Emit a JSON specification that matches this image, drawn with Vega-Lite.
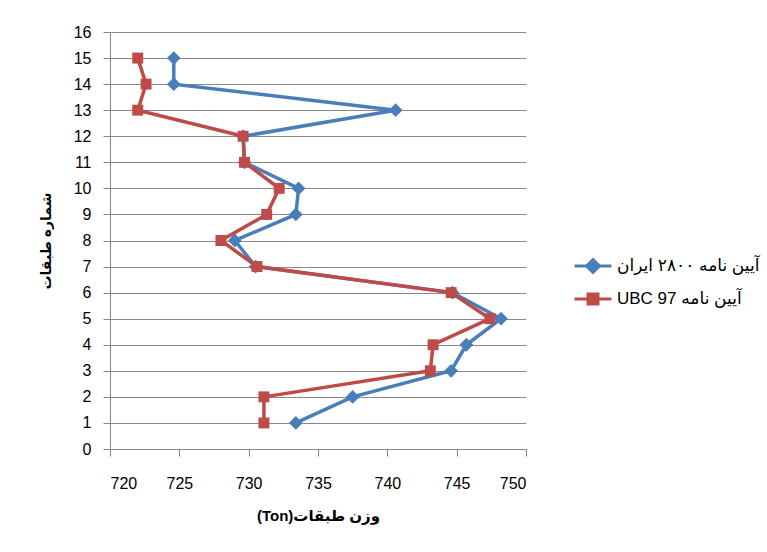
{
  "$schema": "https://vega.github.io/schema/vega-lite/v6.json",
  "width": 416,
  "height": 417,
  "autosize": {"type": "none"},
  "padding": {"left": 110, "top": 32, "right": 241, "bottom": 103},
  "background": "white",
  "config": {
    "view": {"stroke": null},
    "font": "Liberation Sans, DejaVu Sans",
    "axis": {
      "domainColor": "#888888",
      "tickColor": "#888888",
      "gridColor": "#888888",
      "labelColor": "#000000",
      "titleColor": "#000000",
      "labelFontSize": 16,
      "titleFontSize": 14,
      "titleFontWeight": "bold",
      "tickSize": 7
    }
  },
  "data": {
    "values": [
      {"floor": 1, "series": "آیین نامه ۲۸۰۰ ایران", "weight": 733.4},
      {"floor": 2, "series": "آیین نامه ۲۸۰۰ ایران", "weight": 737.5},
      {"floor": 3, "series": "آیین نامه ۲۸۰۰ ایران", "weight": 744.6},
      {"floor": 4, "series": "آیین نامه ۲۸۰۰ ایران", "weight": 745.7},
      {"floor": 5, "series": "آیین نامه ۲۸۰۰ ایران", "weight": 748.2},
      {"floor": 6, "series": "آیین نامه ۲۸۰۰ ایران", "weight": 744.7},
      {"floor": 7, "series": "آیین نامه ۲۸۰۰ ایران", "weight": 730.5},
      {"floor": 8, "series": "آیین نامه ۲۸۰۰ ایران", "weight": 729.0},
      {"floor": 9, "series": "آیین نامه ۲۸۰۰ ایران", "weight": 733.4},
      {"floor": 10, "series": "آیین نامه ۲۸۰۰ ایران", "weight": 733.6},
      {"floor": 11, "series": "آیین نامه ۲۸۰۰ ایران", "weight": 729.7},
      {"floor": 12, "series": "آیین نامه ۲۸۰۰ ایران", "weight": 729.6},
      {"floor": 13, "series": "آیین نامه ۲۸۰۰ ایران", "weight": 740.6},
      {"floor": 14, "series": "آیین نامه ۲۸۰۰ ایران", "weight": 724.6},
      {"floor": 15, "series": "آیین نامه ۲۸۰۰ ایران", "weight": 724.6},
      {"floor": 1, "series": "آیین نامه UBC 97", "weight": 731.1},
      {"floor": 2, "series": "آیین نامه UBC 97", "weight": 731.1},
      {"floor": 3, "series": "آیین نامه UBC 97", "weight": 743.1},
      {"floor": 4, "series": "آیین نامه UBC 97", "weight": 743.3},
      {"floor": 5, "series": "آیین نامه UBC 97", "weight": 747.4},
      {"floor": 6, "series": "آیین نامه UBC 97", "weight": 744.6},
      {"floor": 7, "series": "آیین نامه UBC 97", "weight": 730.6},
      {"floor": 8, "series": "آیین نامه UBC 97", "weight": 728.0},
      {"floor": 9, "series": "آیین نامه UBC 97", "weight": 731.3},
      {"floor": 10, "series": "آیین نامه UBC 97", "weight": 732.2},
      {"floor": 11, "series": "آیین نامه UBC 97", "weight": 729.7},
      {"floor": 12, "series": "آیین نامه UBC 97", "weight": 729.6},
      {"floor": 13, "series": "آیین نامه UBC 97", "weight": 722.0},
      {"floor": 14, "series": "آیین نامه UBC 97", "weight": 722.6},
      {"floor": 15, "series": "آیین نامه UBC 97", "weight": 722.0}
    ]
  },
  "encoding": {
    "x": {
      "field": "weight",
      "type": "quantitative",
      "scale": {"domain": [720, 750], "nice": false, "zero": false},
      "axis": {
        "title": "\u202Bوزن طبقات(Ton)\u202C",
        "titleFontSize": 15,
        "values": [720, 725, 730, 735, 740, 745, 750],
        "grid": false,
        "labelPadding": 19,
        "titlePadding": 17
      }
    },
    "y": {
      "field": "floor",
      "type": "quantitative",
      "scale": {"domain": [0, 16], "nice": false},
      "axis": {
        "title": "شماره طبقات",
        "values": [0, 1, 2, 3, 4, 5, 6, 7, 8, 9, 10, 11, 12, 13, 14, 15, 16],
        "grid": true,
        "labelPadding": 12,
        "titlePadding": 20
      }
    }
  },
  "layer": [
    {
      "mark": {"type": "line", "strokeWidth": 3.5},
      "encoding": {
        "order": {"field": "floor", "type": "quantitative"},
        "color": {
          "field": "series",
          "type": "nominal",
          "scale": {
            "domain": ["آیین نامه ۲۸۰۰ ایران", "آیین نامه UBC 97"],
            "range": ["#4A7EBB", "#BE4B48"]
          },
          "legend": {
            "title": null,
            "orient": "none",
            "legendX": 463,
            "legendY": 214,
            "labelFontSize": 17,
            "labelColor": "#000000",
            "labelOffset": 4,
            "labelExpr": "'\u202B' + datum.label + '\u202C'",
            "symbolSize": 1369,
            "symbolStrokeWidth": 3,
            "rowPadding": -2,
            "encode": {
              "symbols": {
                "update": {
                  "shape": {"signal": "indexof(datum.value, 'UBC') >= 0 ? 'M-1,0L1,0M-0.27,-0.27L0.27,-0.27L0.27,0.27L-0.27,0.27Z' : 'M-1,0L1,0M0,-0.35L0.35,0L0,0.35L-0.35,0Z'"},
                  "fill": {"signal": "indexof(datum.value, 'UBC') >= 0 ? '#BE4B48' : '#4A7EBB'"},
                  "stroke": {"signal": "indexof(datum.value, 'UBC') >= 0 ? '#BE4B48' : '#4A7EBB'"},
                  "strokeWidth": {"value": 3}
                }
              }
            }
          }
        }
      }
    },
    {
      "transform": [{"filter": "datum.series === 'آیین نامه ۲۸۰۰ ایران'"}],
      "mark": {"type": "point", "shape": "diamond", "filled": true, "opacity": 1, "size": 190, "color": "#4A7EBB"}
    },
    {
      "transform": [{"filter": "datum.series === 'آیین نامه UBC 97'"}],
      "mark": {"type": "point", "shape": "square", "filled": true, "opacity": 1, "size": 120, "color": "#BE4B48"}
    }
  ]
}
